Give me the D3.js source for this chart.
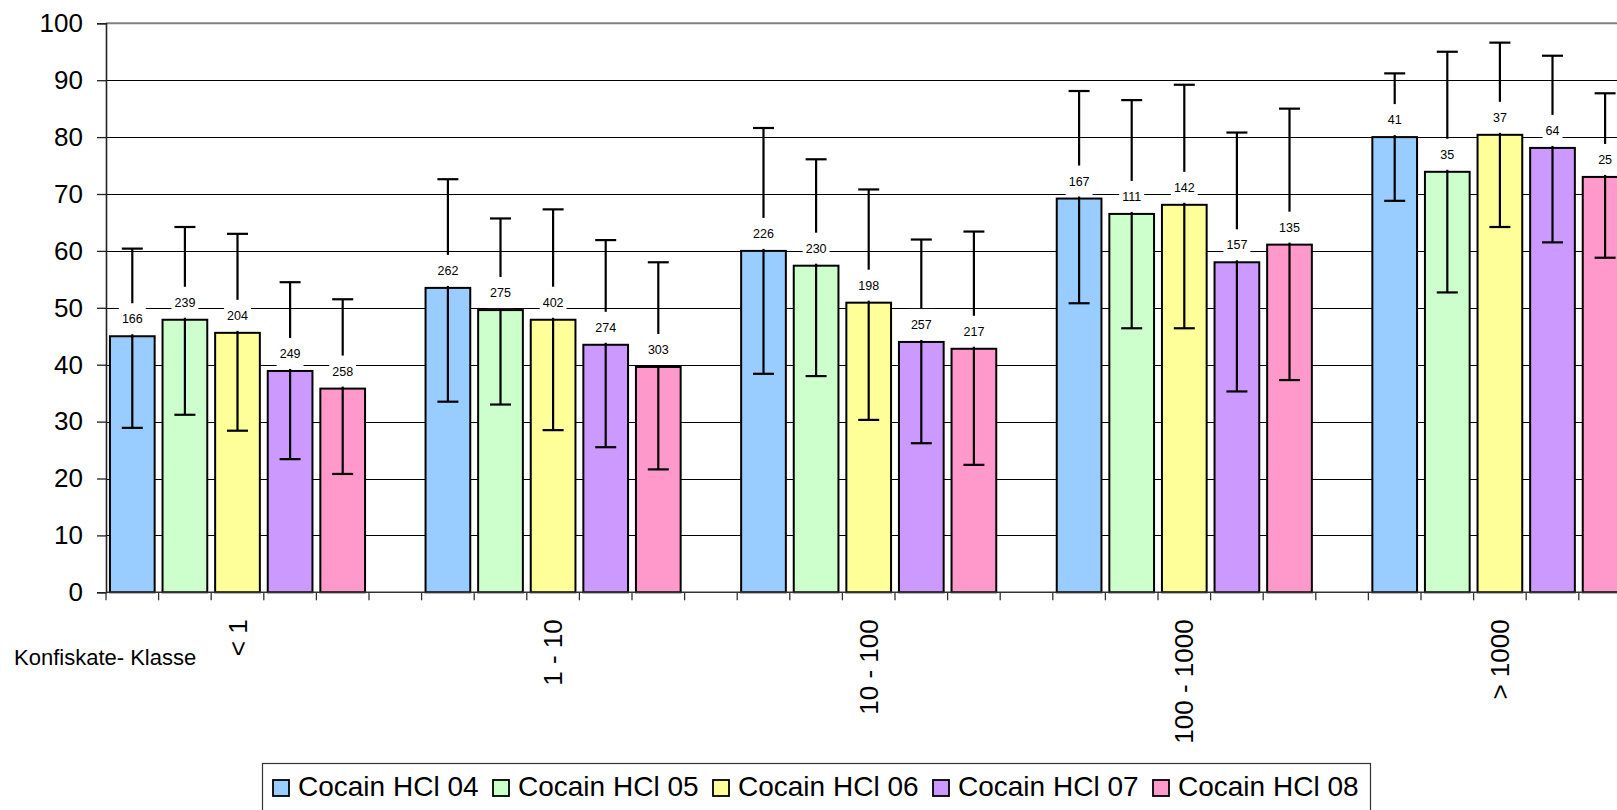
<!DOCTYPE html>
<html>
<head>
<meta charset="utf-8">
<script src="https://cdn.jsdelivr.net/npm/d3@7"></script>
<style>
  html, body { margin: 0; padding: 0; background: #fff; overflow: hidden; }
  svg { display: block; font-family: "Liberation Sans", Arial, sans-serif; }
</style>
</head>
<body>
<div id="chart"></div>
<script>
// categories (Konfiskate-Klasse) and series
const categories = ["< 1", "1 - 10", "10 - 100", "100 - 1000", "> 1000"];
const seriesNames = ["Cocain HCl 04", "Cocain HCl 05", "Cocain HCl 06", "Cocain HCl 07", "Cocain HCl 08"];
const seriesColors = ["#99CCFF", "#CCFFCC", "#FFFF99", "#CC99FF", "#FF99CC"];

// mean values per series, one entry per category
const values04 = [45.0, 53.5, 60.0, 69.2, 80.0];
const values05 = [47.9, 49.6, 57.4, 66.5, 73.9];
const values06 = [45.6, 47.9, 50.9, 68.1, 80.4];
const values07 = [38.9, 43.5, 44.0, 58.0, 78.1];
const values08 = [35.8, 39.6, 42.8, 61.1, 73.0];

// upper / lower ends of the error bars
const errHigh04 = [60.4, 72.6, 81.6, 88.1, 91.2];
const errHigh05 = [64.2, 65.7, 76.1, 86.5, 95.0];
const errHigh06 = [63.0, 67.3, 70.8, 89.2, 96.6];
const errHigh07 = [54.5, 61.9, 62.0, 80.8, 94.3];
const errHigh08 = [51.5, 58.0, 63.4, 85.0, 87.7];

const errLow04 = [28.9, 33.5, 38.4, 50.8, 68.8];
const errLow05 = [31.2, 33.0, 38.0, 46.4, 52.7];
const errLow06 = [28.4, 28.5, 30.3, 46.4, 64.2];
const errLow07 = [23.4, 25.5, 26.2, 35.3, 61.5];
const errLow08 = [20.8, 21.6, 22.4, 37.3, 58.8];

// sample sizes shown above the bars
const counts04 = [166, 262, 226, 167, 41];
const counts05 = [239, 275, 230, 111, 35];
const counts06 = [204, 402, 198, 142, 37];
const counts07 = [249, 274, 257, 157, 64];
const counts08 = [258, 303, 217, 135, 25];

const yTicks = [0, 10, 20, 30, 40, 50, 60, 70, 80, 90, 100];
const xAxisTitle = "Konfiskate- Klasse";

const allValues = [values04, values05, values06, values07, values08];
const allHigh = [errHigh04, errHigh05, errHigh06, errHigh07, errHigh08];
const allLow = [errLow04, errLow05, errLow06, errLow07, errLow08];
const allCounts = [counts04, counts05, counts06, counts07, counts08];

const data = [];
seriesNames.forEach((s, si) => {
    categories.forEach((c, ci) => {
        data.push({
            series: s, si: si, cat: c,
            value: allValues[si][ci],
            high: allHigh[si][ci],
            low: allLow[si][ci],
            n: allCounts[si][ci]
        });
    });
});

const chartW = 1617, chartH = 810;
const plotLeft = 106, plotTop = 23.3, plotBottom = 592.3;
const groupWidth = 315.6;

const svg = d3.select("#chart").append("svg")
    .attr("width", chartW)
    .attr("height", chartH);

// x: one band per category, 6 slots inside (5 bars + one empty slot)
const x0 = d3.scaleBand()
    .domain(categories)
    .range([plotLeft, plotLeft + groupWidth * categories.length])
    .paddingInner(0).paddingOuter(0);

const x1 = d3.scaleBand()
    .domain(d3.range(seriesNames.length + 1))
    .range([0, x0.bandwidth()])
    .paddingInner(0.15).paddingOuter(0.075);

const y = d3.scaleLinear().domain([0, 100]).range([plotBottom, plotTop]);

const barMid = d => x0(d.cat) + x1(d.si) + x1.bandwidth() / 2;

// gridlines
svg.append("g")
  .selectAll("line")
  .data(yTicks.filter(t => t > 0 && t < 100))
  .join("line")
    .attr("x1", plotLeft).attr("x2", x0.range()[1])
    .attr("y1", d => Math.round(y(d)) + 0.5).attr("y2", d => Math.round(y(d)) + 0.5)
    .attr("stroke", "#000").attr("stroke-width", 1);

// plot border top
svg.append("line")
    .attr("x1", plotLeft).attr("x2", x0.range()[1])
    .attr("y1", y(100)).attr("y2", y(100))
    .attr("stroke", "#808080").attr("stroke-width", 2);

// bars
svg.append("g")
    .attr("stroke", "#000")
    .attr("stroke-width", 2)
  .selectAll("rect")
  .data(data)
  .join("rect")
    .attr("x", d => x0(d.cat) + x1(d.si))
    .attr("y", d => y(d.value))
    .attr("width", x1.bandwidth())
    .attr("height", d => y(0) - y(d.value))
    .attr("fill", d => seriesColors[d.si]);

// error bars
const capW = 21;
const err = svg.append("g")
    .attr("stroke", "#000")
    .attr("stroke-width", 2.2);
err.selectAll("line.v")
  .data(data)
  .join("line")
    .attr("class", "v")
    .attr("x1", barMid).attr("x2", barMid)
    .attr("y1", d => y(d.high))
    .attr("y2", d => y(d.low));
err.selectAll("line.hi")
  .data(data)
  .join("line")
    .attr("class", "hi")
    .attr("x1", d => barMid(d) - capW / 2)
    .attr("x2", d => barMid(d) + capW / 2)
    .attr("y1", d => y(d.high))
    .attr("y2", d => y(d.high));
err.selectAll("line.lo")
  .data(data)
  .join("line")
    .attr("class", "lo")
    .attr("x1", d => barMid(d) - capW / 2)
    .attr("x2", d => barMid(d) + capW / 2)
    .attr("y1", d => y(d.low))
    .attr("y2", d => y(d.low));

// data labels (n) with white background boxes
const labels = svg.append("g")
  .selectAll("g")
  .data(data)
  .join("g")
    .attr("transform", d => `translate(${barMid(d)},${y(d.value)})`);
labels.append("text")
    .attr("text-anchor", "middle")
    .attr("y", -13)
    .attr("font-size", 12.5)
    .attr("fill", "#000")
    .text(d => d.n);
labels.insert("rect", "text")
    .attr("fill", "#fff")
    .attr("y", -33)
    .attr("height", 31)
    .each(function() {
        const t = d3.select(this.parentNode).select("text").node();
        const w = t.getComputedTextLength() + 6;
        d3.select(this).attr("x", -w / 2).attr("width", w);
    });

// y axis
svg.append("g")
    .attr("transform", `translate(${plotLeft},0)`)
    .call(d3.axisLeft(y).tickValues(yTicks).tickSize(9).tickPadding(14))
    .call(g => g.select(".domain").attr("stroke", "#222").attr("stroke-width", 1.6))
    .call(g => g.selectAll(".tick line").attr("stroke", "#222").attr("stroke-width", 1.3))
    .call(g => g.selectAll(".tick text")
        .attr("font-size", 26)
        .attr("font-family", "'Liberation Sans', Arial, sans-serif")
        .attr("fill", "#000"));

// x axis line and slot ticks
const slotTicks = [];
categories.forEach(c => {
    d3.range(seriesNames.length + 1).forEach(j => slotTicks.push(x0(c) + j * x1.step()));
});
slotTicks.push(x0.range()[1]);

const xAxis = svg.append("g").attr("stroke", "#333").attr("stroke-width", 1.3);
xAxis.append("line")
    .attr("x1", plotLeft).attr("x2", x0.range()[1])
    .attr("y1", y(0)).attr("y2", y(0))
    .attr("stroke-width", 1.6);
xAxis.selectAll("line.t")
  .data(slotTicks)
  .join("line")
    .attr("class", "t")
    .attr("x1", d => d).attr("x2", d => d)
    .attr("y1", y(0)).attr("y2", y(0) + 8);

// category labels, rotated, centred on the middle series
svg.append("g")
  .selectAll("text")
  .data(categories)
  .join("text")
    .attr("transform", d => `translate(${x0(d) + x1(2) + x1.bandwidth() / 2},${y(0) + 27}) rotate(-90)`)
    .attr("text-anchor", "end")
    .attr("dy", "0.35em")
    .attr("font-size", 26)
    .attr("fill", "#000")
    .text(d => d);

// x axis title
svg.append("text")
    .attr("x", 14)
    .attr("y", 665)
    .attr("font-size", 22)
    .attr("fill", "#000")
    .text(xAxisTitle);

// legend
const legendX = 262, legendY = 763, itemStep = 220;
svg.append("rect")
    .attr("x", legendX + 0.5).attr("y", legendY + 0.5)
    .attr("width", 1108).attr("height", 60)
    .attr("fill", "#fff")
    .attr("stroke", "#333").attr("stroke-width", 1.2);

const legendItems = svg.append("g")
  .selectAll("g")
  .data(seriesNames)
  .join("g")
    .attr("transform", (d, i) => `translate(${legendX + 11 + i * itemStep},${legendY})`);
legendItems.append("rect")
    .attr("x", 0).attr("y", 17)
    .attr("width", 16).attr("height", 16)
    .attr("fill", (d, i) => seriesColors[i])
    .attr("stroke", "#000").attr("stroke-width", 1.8);
legendItems.append("text")
    .attr("x", 25).attr("y", 33)
    .attr("font-size", 28)
    .attr("fill", "#000")
    .text(d => d);
</script>
</body>
</html>
